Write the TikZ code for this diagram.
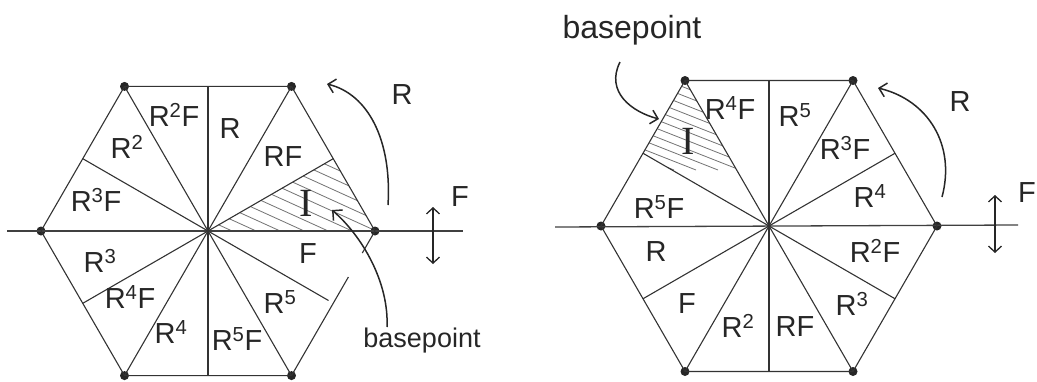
\documentclass[tikz,border=0pt]{standalone}
\usepackage{fontspec}
\setmainfont{Liberation Sans}
\newfontfamily\serifI{Liberation Serif}
\usetikzlibrary{arrows.meta}
\newcommand{\pw}[1]{\textsuperscript{#1}}
\begin{document}
\begin{tikzpicture}[x=1pt,y=-1pt,
  edge/.style={line width=1.1pt, draw=black!80},
  axis/.style={line width=1.3pt, draw=black!75},
  hatch/.style={line width=0.8pt, draw=black!55},
  dot/.style={circle, fill=black!85, inner sep=0pt, minimum size=9pt},
  lbl/.style={font=\fontsize{29}{31}\selectfont, inner sep=0pt, text=black!85},
  ilbl/.style={font=\serifI\fontsize{40}{42}\selectfont, inner sep=0pt, text=black!85},
  blbl/.style={inner sep=0pt, text=black!85},
  carrow/.style={line width=1.5pt, draw=black!85, -{Straight Barb[length=7pt,width=14pt,line width=1.5pt]}},
  farrow/.style={line width=1.3pt, draw=black!85, {Straight Barb[length=6pt,width=13pt,line width=1.3pt]}-{Straight Barb[length=6pt,width=13pt,line width=1.3pt]}}
]
\useasboundingbox (0,0) rectangle (1037,381);

% ---------- left hexagon ----------
\coordinate (L) at (208,231);
\coordinate (Lm30) at (333.2,158.7);
\coordinate (Lm90) at (208,86.4);
\coordinate (Lm150) at (82.8,158.7);
\coordinate (Lm210) at (82.8,303.3);
\coordinate (Lm270) at (208,375.6);
\coordinate (Lm330) at (328.5,300.5);
\coordinate (La) at (7,231);
\coordinate (Lb) at (463,231);
\coordinate (Lg1) at (362.3,253);
\coordinate (Lg2) at (348.4,277);

% hatching
\begin{scope}
  \clip (208,231) -- (375,231) -- (333.2,158.7) -- cycle;
  \foreach \k in {0,...,30}
    \draw[hatch] (-200+\k*24,100) -- ++(330,150);
\end{scope}

\node[dot] (l0) at (375,231) {};
\node[dot] (l60) at (291.5,86.4) {};
\node[dot] (l120) at (124.5,86.4) {};
\node[dot] (l180) at (41,231) {};
\node[dot] (l240) at (124.5,375.6) {};
\node[dot] (l300) at (291.5,375.6) {};

\draw[axis] (La) -- (Lb);
\draw[edge] (l60.center) -- (l120.center) -- (l180.center) -- (l240.center) -- (l300.center);
\draw[edge] (l0.center) -- (l60.center);
\draw[edge] (l0.center) -- (Lg1);
\draw[edge] (Lg2) -- (l300.center);
\draw[edge] (L) -- (l60.center);
\draw[edge] (L) -- (l120.center);
\draw[edge] (L) -- (l240.center);
\draw[edge] (L) -- (l300.center);
\draw[edge] (Lm90) -- (Lm270);
\draw[edge] (L) -- (Lm30);
\draw[edge] (L) -- (Lm150);
\draw[edge] (L) -- (Lm210);
\draw[edge] (L) -- (Lm330);

\node[lbl] (a1) at (230,129) {R};
\node[lbl] (a2) at (283,157) {RF};
\node[lbl] (a3) at (174,115) {R\pw{2}F};
\node[lbl] (a4) at (127,147) {R\pw{2}};
\node[lbl] (a5) at (96,200) {R\pw{3}F};
\node[lbl] (a6) at (100,261) {R\pw{3}};
\node[lbl] (a7) at (130,297) {R\pw{4}F};
\node[lbl] (a8) at (171,332) {R\pw{4}};
\node[lbl] (a9) at (237,339) {R\pw{5}F};
\node[lbl] (a10) at (280,302) {R\pw{5}};
\node[lbl] (a11) at (308,254) {F};
\node[ilbl] (a12) at (306,203) {I};

\coordinate (LRs) at (388,205);
\coordinate (LRe) at (327,84);
\draw[carrow] (LRs) .. controls (392,140) and (368,94) .. (LRe);
\node[lbl] (LRl) at (402,95) {R};
\coordinate (LFs) at (433,207);
\coordinate (LFe) at (433,264);
\draw[farrow] (LFs) -- (LFe);
\node[lbl] (LFl) at (460,197) {F};
\coordinate (LBs) at (387,327);
\coordinate (LBe) at (332,210);
\draw[carrow] (LBs) .. controls (389,282) and (362,236) .. (LBe);
\node[blbl, font=\fontsize{27}{29}\selectfont] (LBl) at (422,341) {basepoint};

% ---------- right hexagon ----------
\coordinate (Rc) at (769,226);
\coordinate (Rm30) at (895,153.25);
\coordinate (Rm90) at (769,80.5);
\coordinate (Rm150) at (643,153.25);
\coordinate (Rm210) at (643,298.75);
\coordinate (Rm270) at (769,371.5);
\coordinate (Rm330) at (895,298.75);
\coordinate (Ra) at (555,227);
\coordinate (Rb) at (1018,225);

\begin{scope}
  \clip (769,226) -- (685,80.5) -- (643,153.25) -- cycle;
  \foreach \k in {0,...,30}
    \draw[hatch] (300+\k*22,40) -- ++(330,130);
\end{scope}

\node[dot] (r0) at (937,226) {};
\node[dot] (r60) at (853,80.5) {};
\node[dot] (r120) at (685,80.5) {};
\node[dot] (r180) at (601,226) {};
\node[dot] (r240) at (685,371.5) {};
\node[dot] (r300) at (853,371.5) {};

\draw[axis] (Ra) -- (Rb);
\draw[edge] (r0.center) -- (r60.center) -- (r120.center) -- (r180.center) -- (r240.center) -- (r300.center) -- cycle;
\draw[edge] (Rc) -- (r60.center);
\draw[edge] (Rc) -- (r120.center);
\draw[edge] (Rc) -- (r240.center);
\draw[edge] (Rc) -- (r300.center);
\draw[edge] (Rm90) -- (Rm270);
\draw[edge] (Rc) -- (Rm30);
\draw[edge] (Rc) -- (Rm150);
\draw[edge] (Rc) -- (Rm210);
\draw[edge] (Rc) -- (Rm330);

\node[lbl] (b1) at (870,196) {R\pw{4}};
\node[lbl] (b2) at (845,148) {R\pw{3}F};
\node[lbl] (b3) at (795,115) {R\pw{5}};
\node[lbl] (b4) at (730,108) {R\pw{4}F};
\node[ilbl] (b5) at (688,141) {I};
\node[lbl] (b6) at (659,207) {R\pw{5}F};
\node[lbl] (b7) at (656,252) {R};
\node[lbl] (b8) at (687,304) {F};
\node[lbl] (b9) at (738,326) {R\pw{2}};
\node[lbl] (b10) at (795,327) {RF};
\node[lbl] (b11) at (852,304) {R\pw{3}};
\node[lbl] (b12) at (875,251) {R\pw{2}F};

\coordinate (RRs) at (942,197);
\coordinate (RRe) at (878,88);
\draw[carrow] (RRs) .. controls (956,145) and (928,100) .. (RRe);
\node[lbl] (RRl) at (960,102) {R};
\coordinate (RFs) at (995,195);
\coordinate (RFe) at (995,253);
\draw[farrow] (RFs) -- (RFe);
\node[lbl] (RFl) at (1027,193) {F};
\coordinate (RBs) at (620,62);
\coordinate (RBe) at (659,119);
\draw[carrow] (RBs) .. controls (605,92) and (632,112) .. (RBe);
\node[blbl, font=\fontsize{32}{34}\selectfont] (RBl) at (632,30) {basepoint};
\end{tikzpicture}
\end{document}
